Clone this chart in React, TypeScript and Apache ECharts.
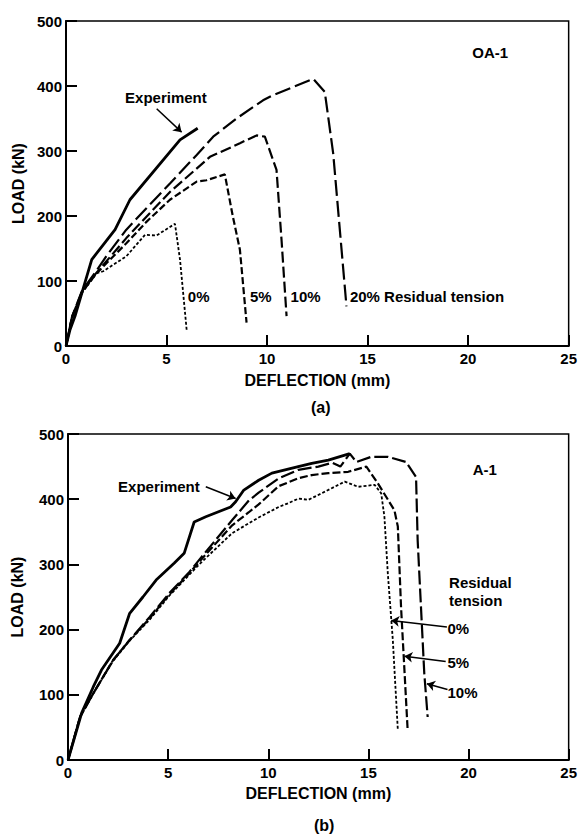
import React, { useEffect, useRef } from "react";
import * as echarts from "echarts";

const FONT = '"Liberation Sans", Arial, Helvetica, sans-serif';

// ---- (a) OA-1 : [deflection mm, load kN]
const expA = [[0, 0], [0.2, 25], [0.45, 46], [0.85, 88], [1.28, 133], [2.44, 179], [3.18, 225], [5.67, 317], [6.55, 335]];
const a20 = [[0, 0], [0.3, 45], [0.8, 85], [1.5, 115], [2, 138], [3, 179], [4, 212], [5.17, 250], [6.5, 294], [7.32, 322], [8.48, 350], [9.8, 378], [10.3, 386], [12.3, 411], [12.87, 391], [13.29, 296], [13.95, 61]];
const a10 = [[0, 0], [0.3, 45], [0.8, 84], [1.5, 112], [2, 130], [3, 166], [4, 199], [5.17, 237], [7.16, 291], [8.65, 312], [9.48, 324], [9.89, 322], [10.47, 271], [10.72, 163], [10.97, 46]];
const a5 = [[0, 0], [0.3, 44], [0.8, 83], [1.5, 111], [2, 127], [3, 158], [4, 191], [5.17, 225], [6.5, 253], [6.99, 255], [7.9, 264], [8.3, 199], [8.65, 148], [8.98, 36]];
const a0 = [[0, 0], [0.3, 43], [0.8, 82], [1.52, 112], [1.85, 115], [3.0, 138], [3.93, 171], [4.5, 170], [5.42, 188], [5.67, 133], [6.0, 25]];

// ---- (b) A-1
const expB = [[0, 0], [0.68, 72], [1.26, 112], [1.67, 138], [2.58, 179], [3.08, 225], [3.74, 250], [4.4, 276], [5.31, 302], [5.8, 317], [6.3, 365], [6.88, 373], [8.12, 388], [8.37, 396], [8.78, 414], [9.52, 429], [10.18, 440], [11.5, 450], [12.17, 455], [13, 460], [14.07, 470]];
const b10 = [[0, 0], [0.6, 66], [1.26, 102], [2.25, 153], [3.08, 184], [4.07, 219], [5.06, 256], [6.05, 288], [6.55, 307], [8.2, 368], [9.03, 398], [9.52, 410], [10.52, 432], [11.5, 445], [12.5, 450], [13.2, 456], [13.6, 450], [14.07, 470], [14.4, 457], [15.14, 465], [15.97, 465], [16.88, 457], [17.38, 434], [17.46, 337], [17.79, 133], [17.96, 66]];
const b5 = [[0, 0], [0.6, 66], [1.26, 102], [2.25, 153], [3.08, 184], [4.07, 217], [5.06, 254], [6.05, 286], [6.55, 304], [8.2, 360], [9.03, 380], [9.52, 392], [10.52, 420], [11.5, 432], [12.17, 437], [13, 440], [13.99, 442], [14.9, 450], [15.48, 424], [16.3, 383], [16.47, 358], [16.63, 235], [16.96, 46]];
const b0 = [[0, 0], [0.6, 66], [1.26, 102], [2.25, 152], [3.08, 183], [4.07, 215], [5.06, 252], [6.05, 284], [6.55, 300], [8.2, 348], [9.03, 363], [9.52, 372], [10.52, 388], [11.01, 394], [11.51, 401], [12.0, 399], [12.66, 409], [13.82, 427], [14.48, 419], [15.31, 422], [15.64, 409], [15.8, 373], [15.97, 286], [16.22, 184], [16.47, 46]];

// annotation texts [x, y, text, align]
const labelsA = [
  [4.97, 383, "Experiment", "center"],
  [21.1, 452, "OA-1", "center"],
  [6.06, 76, "0%", "left"],
  [9.15, 76, "5%", "left"],
  [11.17, 76, "10%", "left"],
  [14.12, 76, "20% Residual tension", "left"],
];
const arrowsA = [[[4.51, 365], [5.75, 329]]];

const labelsB = [
  [2.5, 420, "Experiment", "left"],
  [20.81, 446, "A-1", "center"],
  [19.03, 258, "Residual\ntension", "left"],
  [18.95, 202, "0%", "left"],
  [18.95, 149, "5%", "left"],
  [18.95, 104, "10%", "left"],
];
const arrowsB = [
  [[6.88, 419], [8.37, 401]],
  [[18.92, 204], [16.14, 214]],
  [[18.86, 151], [16.8, 159]],
  [[18.95, 108], [17.92, 117]],
];

const txt = { fontFamily: FONT, fontWeight: "bold", color: "#000" };

function xAxisCfg(gridIndex: number, nameGap: number) {
  return {
    type: "value", gridIndex, min: 0, max: 25, interval: 5,
    name: "DEFLECTION (mm)", nameLocation: "middle", nameGap,
    nameTextStyle: { ...txt, fontSize: 16 },
    axisLine: { show: true, onZero: false, lineStyle: { color: "#000", width: 2 } },
    axisTick: { show: true, inside: true, length: 11, lineStyle: { color: "#000", width: 2 } },
    axisLabel: { ...txt, fontSize: 15, margin: 5 },
    splitLine: { show: false },
  };
}
function yAxisCfg(gridIndex: number, nameGap: number) {
  return {
    type: "value", gridIndex, min: 0, max: 500, interval: 100,
    name: "LOAD (kN)", nameLocation: "middle", nameGap,
    nameTextStyle: { ...txt, fontSize: 16 },
    axisLine: { show: true, onZero: false, lineStyle: { color: "#000", width: 2 } },
    axisTick: { show: true, inside: true, length: 11, lineStyle: { color: "#000", width: 2 } },
    axisLabel: { ...txt, fontSize: 15, margin: 4 },
    splitLine: { show: false },
  };
}

function line(data: number[][], idx: number, type: any, width: number, extra: any = {}) {
  return {
    type: "line", xAxisIndex: idx, yAxisIndex: idx, data,
    showSymbol: false, symbol: "none", smooth: false, silent: true,
    lineStyle: { color: "#000", width, type, cap: "butt" },
    ...extra,
  };
}

function annotations(labels: any[], arrows: any[]) {
  return {
    markPoint: {
      silent: true, symbol: "circle", symbolSize: 1,
      itemStyle: { color: "rgba(0,0,0,0)" },
      data: labels.map((l) => ({
        coord: [l[0], l[1]],
        label: { show: true, position: "inside", formatter: l[2], align: l[3], verticalAlign: "middle", ...txt, fontSize: 15, lineHeight: 18 },
      })),
    },
    markLine: {
      silent: true, symbol: ["none", "arrow"], symbolSize: 8,
      lineStyle: { color: "#000", width: 1.5, type: "solid" },
      label: { show: false },
      data: arrows.map((a) => [{ coord: a[0] }, { coord: a[1] }]),
    },
  };
}

export default function App() {
  const ref = useRef<HTMLDivElement>(null);
  useEffect(() => {
    const chart = echarts.init(ref.current!, null, { renderer: "svg" });
    chart.setOption({
      animation: false,
      backgroundColor: "#fff",
      grid: [
        { left: 66, top: 21, width: 503, height: 325, show: true, borderColor: "#000", borderWidth: 1.5, backgroundColor: "transparent" },
        { left: 68, top: 434, width: 504, height: 326, show: true, borderColor: "#000", borderWidth: 1.5, backgroundColor: "transparent" },
      ],
      xAxis: [xAxisCfg(0, 26), xAxisCfg(1, 25)],
      yAxis: [yAxisCfg(0, 40), yAxisCfg(1, 43)],
      graphic: [
        { type: "text", left: 311, top: 399, style: { text: "(a)", font: `bold 16px ${FONT}`, fill: "#000" } },
        { type: "text", left: 314, top: 817, style: { text: "(b)", font: `bold 16px ${FONT}`, fill: "#000" } },
      ],
      series: [
        line(expA, 0, "solid", 2.8, annotations(labelsA, arrowsA)),
        line(a20, 0, [16, 5], 2.2),
        line(a10, 0, [11, 4], 2.2),
        line(a5, 0, [7, 3], 2.2),
        line(a0, 0, [3, 2], 1.8),
        line(expB, 1, "solid", 2.8, annotations(labelsB, arrowsB)),
        line(b10, 1, [14, 4], 2.2),
        line(b5, 1, [8, 3], 2.2),
        line(b0, 1, [3, 2], 1.8),
      ],
    });
    return () => chart.dispose();
  }, []);
  return <div ref={ref} style={{ position: "absolute", left: 0, top: 0, width: 580, height: 834 }} />;
}
